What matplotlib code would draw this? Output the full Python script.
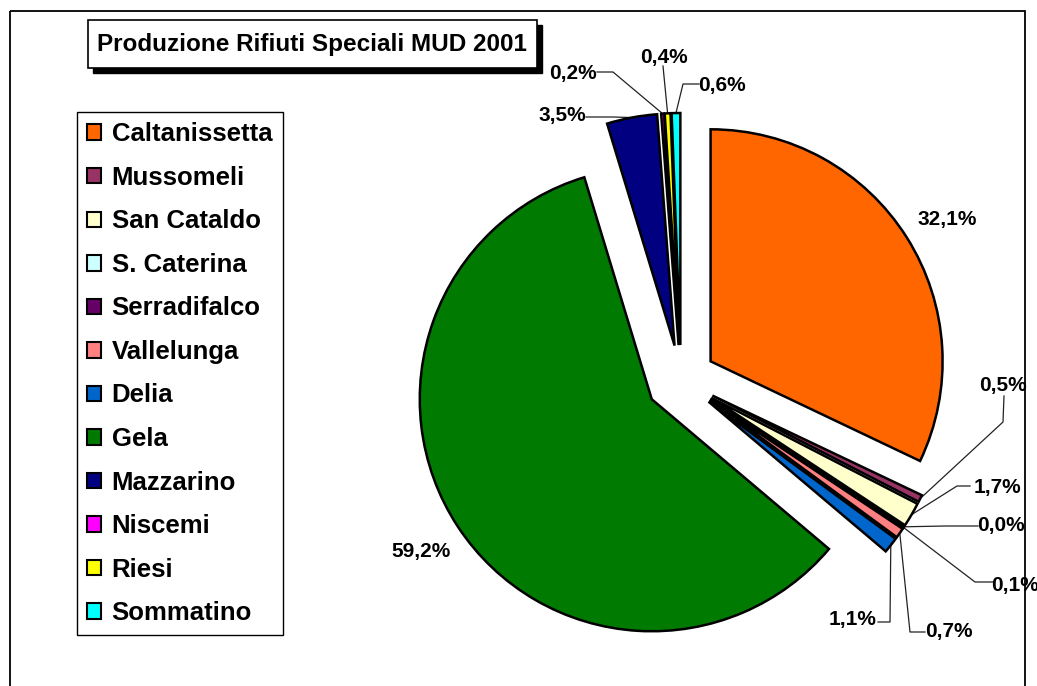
"""Produzione Rifiuti Speciali MUD 2001 - exploded pie"""

import numpy as np
import matplotlib
matplotlib.use('Agg')
from matplotlib import pyplot as plt
from matplotlib.patches import Rectangle

comuni = ['Caltanissetta', 'Mussomeli', 'San Cataldo', 'S. Caterina', 'Serradifalco',
          'Vallelunga', 'Delia', 'Gela', 'Mazzarino', 'Niscemi', 'Riesi', 'Sommatino']
quote = [32.1, 0.5, 1.7, 0.0, 0.1, 0.7, 1.1, 59.2, 3.5, 0.2, 0.4, 0.6]
colori = ['#FF6600', '#993366', '#FFFFCC', '#CCFFFF', '#660066', '#FF8080',
          '#0066CC', '#007A00', '#000080', '#FF00FF', '#FFFF00', '#00FFFF']
titolo = 'Produzione Rifiuti Speciali MUD 2001'

# label placement (pixel coords, y down) and leader-line elbows
lab_pos = [(947, 219), (1003, 386), (997, 487), (1001, 525), (1015, 585), (949, 632),
           (853, 619), (421, 552), (562, 116), (573, 73), (664, 57), (722, 85)]
leader = [None, [(1003, 422), (1004, 396)], [(957, 486), (970, 486)],
          [(945, 526), (978, 526)], [(975, 582), (993, 582)], [(910, 632), (925, 632)],
          [(890, 622), (878, 622)], None, [(613, 117), (586, 117)],
          [(613, 72), (597, 72)], [(663, 66)], [(683, 84), (699, 84)]]

W, H = 1037, 686
plt.rcParams['font.family'] = ['Liberation Sans', 'DejaVu Sans']
plt.rcParams['font.weight'] = 'bold'

fig = plt.figure(figsize=(W / 100, H / 100), dpi=100)
ax = fig.add_axes([0, 0, 1, 1])

R = 232
wedges, _ = ax.pie(quote, colors=colori, explode=[35] * len(quote), radius=R,
                   center=(681, 380), startangle=-90, counterclock=True,
                   wedgeprops=dict(edgecolor='black', linewidth=1.8, zorder=3))
ax.set_xlim(0, W)
ax.set_ylim(H, 0)
ax.set_aspect('auto')
ax.axis('off')

# percentage labels + leader lines
for w, v, p, ld in zip(wedges, quote, lab_pos, leader):
    txt = ('%.1f%%' % v).replace('.', ',')
    ax.text(p[0], p[1], txt, fontsize=15, ha='center', va='center', zorder=5)
    if ld is None:
        continue
    tm = np.deg2rad((w.theta1 + w.theta2) / 2)
    cx, cy = w.center
    ox, oy = cx + w.r * np.cos(tm), cy + w.r * np.sin(tm)
    xs = [ox] + [q[0] for q in ld]
    ys = [oy] + [q[1] for q in ld]
    ax.plot(xs, ys, color='#222222', lw=0.9, zorder=2)

# title box with shadow
ax.add_patch(Rectangle((93, 25), 449, 48, fc='black', ec='black', zorder=6))
ax.add_patch(Rectangle((88, 20), 449, 48, fc='white', ec='black', lw=1.2, zorder=7))
ax.text(312, 44, titolo, fontsize=17.5, ha='center', va='center', zorder=8)

# legend
leg = ax.legend(wedges, comuni, loc='upper left', bbox_to_anchor=(77, 112),
                bbox_transform=ax.transData, fontsize=18.5, frameon=True,
                fancybox=False, shadow=False, framealpha=1, edgecolor='black',
                handlelength=0.55, handleheight=0.55, handletextpad=0.4,
                labelspacing=0.76, borderpad=0.4, borderaxespad=0)
leg.get_frame().set_linewidth(1.0)
for h in leg.legend_handles:
    h.set_linewidth(1.5)

# outer chart border
ax.add_patch(Rectangle((10, 11), 1015, 690, fill=False, ec='black', lw=1.3, zorder=9,
                       clip_on=False))

fig.savefig('out.png', dpi=100)
